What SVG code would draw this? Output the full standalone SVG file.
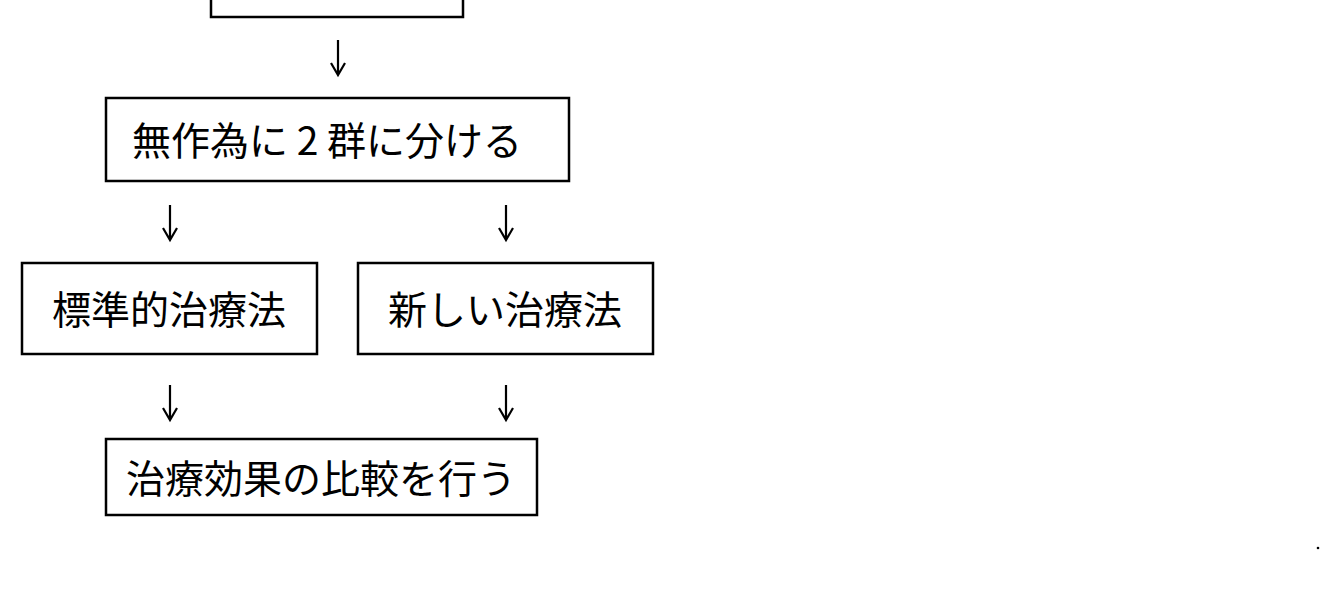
<svg xmlns="http://www.w3.org/2000/svg" width="1342" height="592" viewBox="0 0 1342 592">
<style>
rect{fill:#fff;stroke:#000;stroke-width:2.5}
text{font-family:"Noto Sans CJK JP","Liberation Serif",serif;font-size:39px;fill:#000}
.a{fill:none;stroke:#000;stroke-width:2.2}
</style>
<rect width="1342" height="592" style="stroke:none"/>
<g id="n0"><rect x="211" y="-10" width="252" height="27"/></g>
<g id="n1"><rect x="106" y="98" width="463" height="83"/><text x="327" y="155" text-anchor="middle">無作為に 2 群に分ける</text></g>
<g id="n2"><rect x="22" y="263" width="295" height="91"/><text x="169" y="324" text-anchor="middle">標準的治療法</text></g>
<g id="n3"><rect x="358" y="263" width="295" height="91"/><text x="505" y="324" text-anchor="middle">新しい治療法</text></g>
<g id="n4"><rect x="106" y="439" width="431" height="76"/><text x="321" y="493" text-anchor="middle">治療効果の比較を行う</text></g>
<g id="edges">
<path class="a" d="M338 40V75M331 63L338 75L345 63"/>
<path class="a" d="M170 205V240M163 228L170 240L177 228"/>
<path class="a" d="M506 205V240M499 228L506 240L513 228"/>
<path class="a" d="M170 385V420M163 408L170 420L177 408"/>
<path class="a" d="M506 385V420M499 408L506 420L513 408"/>
</g>
<circle cx="1318" cy="548" r="1.3" fill="#000"/>
</svg>
